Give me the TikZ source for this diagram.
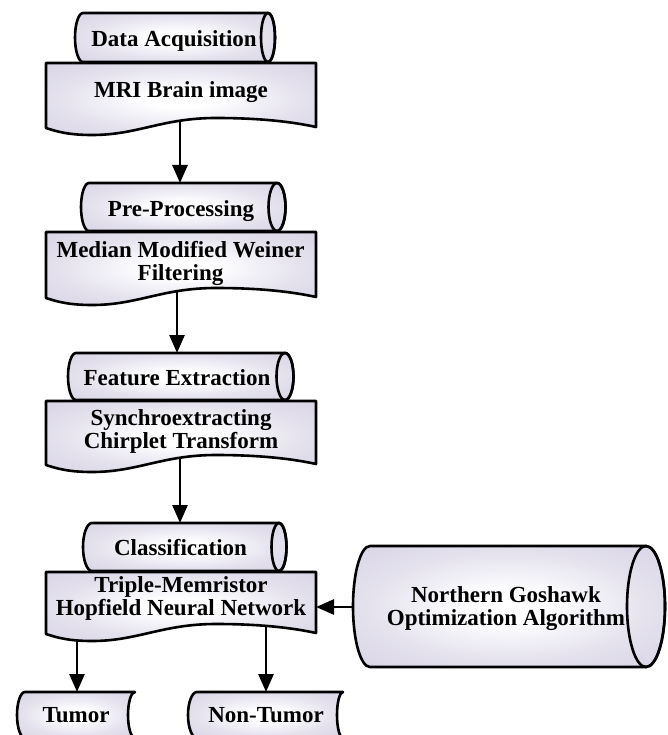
\documentclass[tikz,border=0pt]{standalone}
\usepackage{fontspec}
\setmainfont{Liberation Serif}
\usetikzlibrary{arrows.meta,backgrounds}
\definecolor{lav}{RGB}{212,207,227}
\pgfdeclareradialshading{lavshade}{\pgfpoint{0bp}{0bp}}{color(0bp)=(white); color(6bp)=(white); color(22bp)=(white!40!lav); color(40bp)=(lav); color(50bp)=(lav)}
\tikzset{
  boxfill/.style={shading=lavshade, draw=black, line width=2.6pt, line join=round},
  boxline/.style={draw=black, line width=2.6pt},
  arr/.style={draw=black, line width=2.8pt, -{Triangle[length=18pt,width=15pt]}},
  lbl/.style={font=\bfseries\fontsize{23}{23}\selectfont, align=center, inner sep=0pt},
  one/.style={lbl, text depth=0pt}
}
% cylinder: xl xr yt yb bulge rx
\newcommand{\cylshape}[6]{%
  \pgfmathsetmacro{\ym}{(#3+#4)/2}\pgfmathsetmacro{\ry}{(#4-#3)/2}%
  \shade[boxfill] (#1,#3) -- (#2,#3) arc[start angle=-90,end angle=90,x radius=#6,y radius=\ry] -- (#1,#4) arc[start angle=90,end angle=270,x radius=#5,y radius=\ry] -- cycle;
  \draw[boxline] (#2,\ym) ellipse[x radius=#6, y radius=\ry];
}
% document: top, bottom line
\newcommand{\docshape}[2]{%
  \shade[boxfill] (46,#1) -- (316,#1) -- (316,#2-1)
    .. controls (284,#2-8) and (248,#2-10) .. (216,#2-10)
    .. controls (162,#2-10) and (138,#2+7) .. (92,#2+7)
    .. controls (70,#2+7) and (58,#2+4) .. (46,#2) -- cycle;
}
% stored data: xl xr yt yb bulge inward
\newcommand{\storeshape}[6]{%
  \pgfmathsetmacro{\ry}{(#4-#3)/2}%
  \shade[boxfill] (#1,#3) -- (#2,#3) arc[start angle=-90,end angle=-270,x radius=#6,y radius=\ry] -- (#1,#4) arc[start angle=90,end angle=270,x radius=#5,y radius=\ry] -- cycle;
}
\begin{document}
\begin{tikzpicture}[x=1pt,y=-1pt]
\useasboundingbox (0,0) rectangle (667,735);
\clip (0,0) rectangle (667,735);

% shapes
\docshape{63}{128}
\cylshape{83}{268}{13}{62}{8}{7}
\docshape{232}{298}
\cylshape{89}{277}{183}{231}{8}{8.5}
\docshape{401}{465}
\cylshape{76}{285}{353}{400}{8}{8.5}
\docshape{572}{634}
\cylshape{92}{279}{523}{571}{9}{7.5}
\cylshape{370}{646}{546}{667}{17}{19}
\storeshape{25}{135}{692}{738}{8}{7}
\storeshape{197}{343}{692}{738}{9}{6}

% texts
\node[one] (da) at (174,39) {Data Acquisition};
\node[one] (mri) at (181,90) {MRI Brain image};
\node[one] (pp) at (181,208.5) {Pre-Processing};
\node[lbl] (mmwf) at (180.5,263) {Median Modified Weiner\\Filtering};
\node[one] (fe) at (177,377.5) {Feature Extraction};
\node[lbl] (sct) at (181,431) {Synchroextracting\\Chirplet Transform};
\node[one] (cl) at (180.5,547) {Classification};
\node[lbl] (tmh) at (181,598) {Triple-Memristor\\Hopfield Neural Network};
\node[lbl] (ng) at (506,609) {Northern Goshawk\\Optimization Algorithm};
\node[one] (tumor) at (76,714.5) {Tumor};
\node[one] (nontumor) at (266,714.5) {Non-Tumor};

% connector end points
\coordinate (mri-out) at (180,112);
\coordinate (pp-in) at (180,183);
\coordinate (mmwf-out) at (177,280);
\coordinate (fe-in) at (177,353);
\coordinate (sct-out) at (180,448);
\coordinate (cl-in) at (180,523);
\coordinate (tmh-out1) at (77,620);
\coordinate (tumor-in) at (77,692);
\coordinate (tmh-out2) at (266,615);
\coordinate (nt-in) at (266,692);
\coordinate (ng-out) at (380,607);
\coordinate (tmh-in) at (316,607);

\begin{pgfonlayer}{background}
\draw[arr] (mri-out) -- (pp-in);
\draw[arr] (mmwf-out) -- (fe-in);
\draw[arr] (sct-out) -- (cl-in);
\draw[arr] (tmh-out1) -- (tumor-in);
\draw[arr] (tmh-out2) -- (nt-in);
\draw[arr] (ng-out) -- (tmh-in);
\end{pgfonlayer}
\end{tikzpicture}
\end{document}
